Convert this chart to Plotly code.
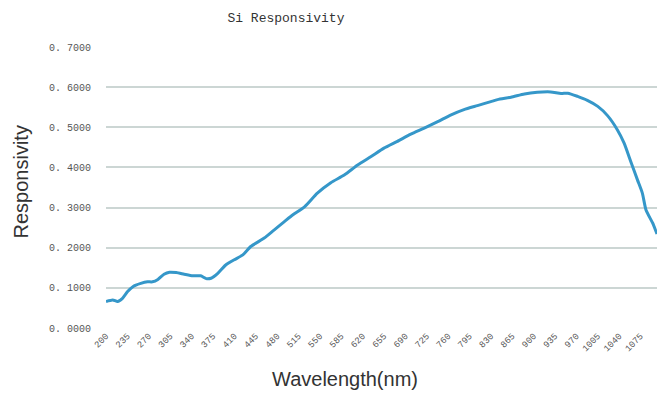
import plotly.graph_objects as go

# Silicon photodiode spectral responsivity (A/W) versus wavelength (nm)
wavelength_nm = [
    200, 211, 219, 227, 235, 244, 257, 268, 276, 285, 295, 304, 315, 328, 342,
    355, 364, 372, 383, 396, 410, 424, 437, 459, 475, 492, 506, 525, 546, 568,
    590, 612, 634, 655, 677, 699, 721, 743, 765, 786, 808, 830, 841, 863, 885,
    906, 928, 945, 956, 972, 988, 1005, 1021, 1037, 1048, 1059, 1070, 1078,
    1084, 1095, 1102,
]
responsivity = [
    0.066, 0.070, 0.066, 0.074, 0.090, 0.103, 0.111, 0.115, 0.115, 0.121, 0.134,
    0.139, 0.138, 0.134, 0.130, 0.130, 0.123, 0.124, 0.136, 0.157, 0.170, 0.182,
    0.203, 0.224, 0.244, 0.265, 0.282, 0.302, 0.336, 0.362, 0.381, 0.406, 0.427,
    0.448, 0.465, 0.483, 0.498, 0.514, 0.531, 0.544, 0.554, 0.564, 0.569, 0.575,
    0.583, 0.587, 0.588, 0.584, 0.585, 0.577, 0.567, 0.552, 0.529, 0.494, 0.461,
    0.415, 0.369, 0.336, 0.294, 0.261, 0.234,
]

x_tick_values = list(range(200, 1076, 35))
y_tick_values = [0.0, 0.1, 0.2, 0.3, 0.4, 0.5, 0.6, 0.7]
y_tick_labels = ["0. 0000", "0. 1000", "0. 2000", "0. 3000",
                 "0. 4000", "0. 5000", "0. 6000", "0. 7000"]

grid_color = "#ccd6d4"
tick_font = dict(family="Liberation Mono, DejaVu Sans Mono, monospace",
                 color="#555555")

fig = go.Figure()
fig.add_trace(go.Scatter(
    x=wavelength_nm,
    y=responsivity,
    mode="lines",
    line=dict(color="#3597c9", width=3, shape="spline", smoothing=0.6),
    showlegend=False,
))

fig.update_layout(
    width=662,
    height=396,
    margin=dict(l=106, r=5, t=47, b=68),
    paper_bgcolor="white",
    plot_bgcolor="white",
    title=dict(
        text="Si Responsivity",
        x=0.432, xanchor="center",
        y=0.955, yanchor="middle",
        font=dict(family="Liberation Mono, DejaVu Sans Mono, monospace",
                  size=13, color="#333333"),
    ),
    xaxis=dict(
        range=[200, 1102],
        tickmode="array",
        tickvals=x_tick_values,
        ticktext=[str(v) for v in x_tick_values],
        tickangle=-45,
        tickfont=dict(size=9, **tick_font),
        showgrid=False,
        zeroline=False,
        showline=False,
        ticks="",
    ),
    yaxis=dict(
        range=[0, 0.7],
        tickmode="array",
        tickvals=y_tick_values,
        ticktext=y_tick_labels,
        tickfont=dict(size=10, **tick_font),
        showgrid=True,
        gridcolor=grid_color,
        gridwidth=1.5,
        zeroline=False,
        showline=False,
        ticks="",
        ticklabelstandoff=14,
    ),
    annotations=[
        dict(text="Responsivity", xref="paper", yref="paper",
             x=-0.155, y=0.52, xanchor="center", yanchor="middle",
             textangle=-90, showarrow=False,
             font=dict(family="Liberation Sans, Arial, sans-serif",
                       size=20, color="#333333")),
        dict(text="Wavelength(nm)", xref="paper", yref="paper",
             x=0.433, y=-0.18, xanchor="center", yanchor="middle",
             showarrow=False,
             font=dict(family="Liberation Sans, Arial, sans-serif",
                       size=20, color="#333333")),
    ],
)

fig.write_html("out.html")
